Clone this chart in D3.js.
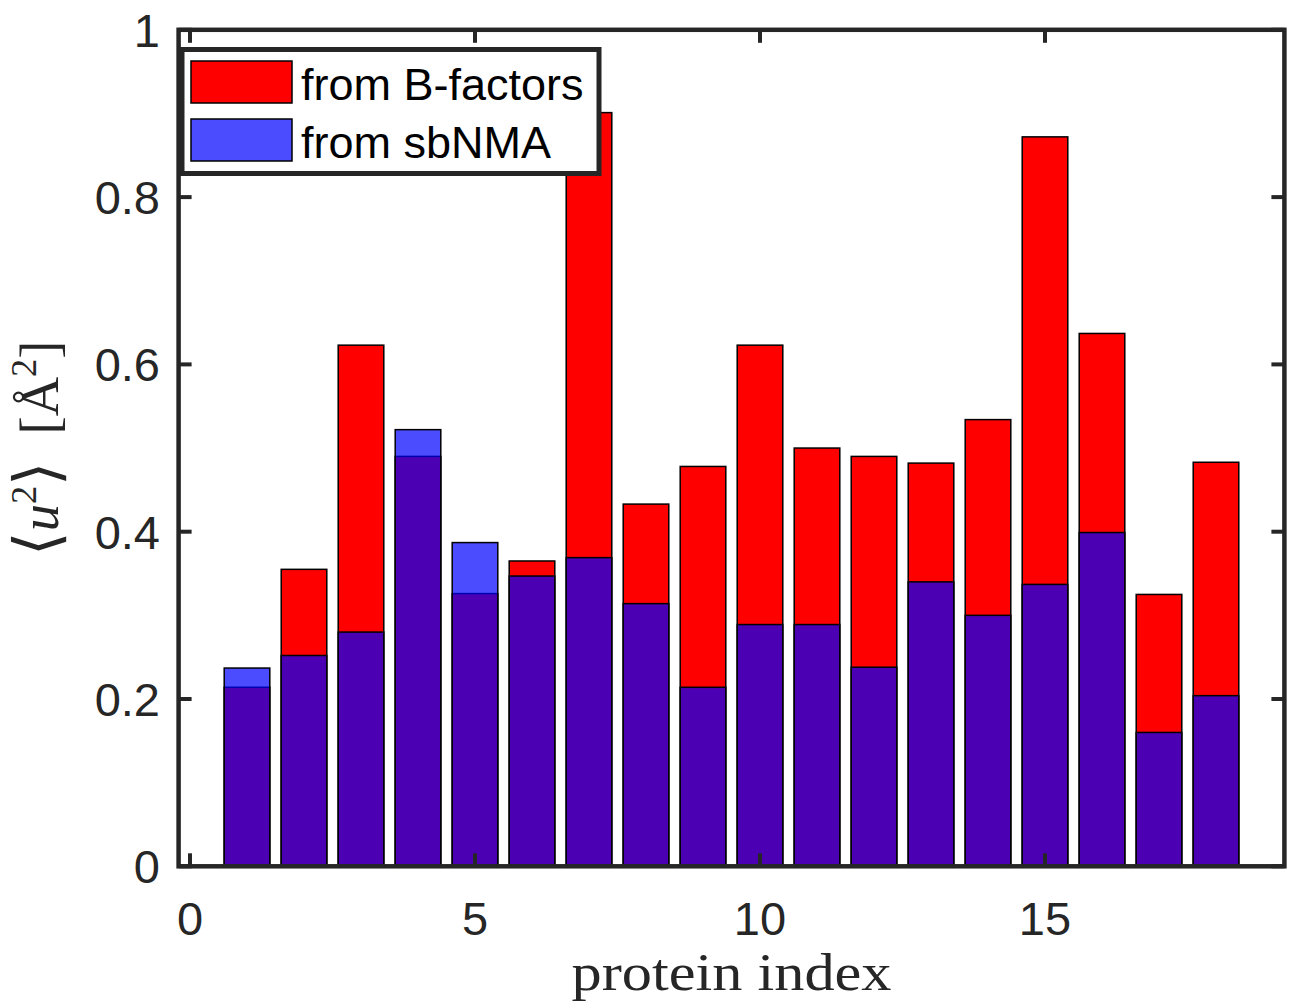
<!DOCTYPE html>
<html>
<head>
<meta charset="utf-8">
<script src="https://cdn.jsdelivr.net/npm/d3@7"></script>
<style>
  html, body { margin: 0; padding: 0; background: #fff; }
  svg { display: block; }
</style>
</head>
<body>
<div id="chart"></div>
<script>
// data
const proteinIndex = [1, 2, 3, 4, 5, 6, 7, 8, 9, 10, 11, 12, 13, 14, 15, 16, 17, 18];
const fromBFactors = [0.214, 0.355, 0.623, 0.490, 0.326, 0.365, 0.901, 0.433, 0.478, 0.623, 0.500, 0.490, 0.482, 0.534, 0.872, 0.637, 0.325, 0.483];
const fromSbNMA = [0.237, 0.252, 0.280, 0.522, 0.387, 0.347, 0.369, 0.314, 0.214, 0.289, 0.289, 0.238, 0.340, 0.300, 0.337, 0.399, 0.160, 0.204];
const xTicks = [0, 5, 10, 15];
const yTicks = [0, 0.2, 0.4, 0.6, 0.8, 1];
const legendLabels = ['from B-factors', 'from sbNMA'];

// layout
const width = 1291, height = 1006;
const plot = {l: 178.6, r: 1284.4, t: 29.8, b: 866.3};
const axisColor = '#262626';
const barWidth = 0.8;

const svg = d3.select('#chart').append('svg')
    .attr('width', width)
    .attr('height', height);

// scales
const x = d3.scaleLinear().domain([-0.2, 19.2]).range([plot.l, plot.r]);
const y = d3.scaleLinear().domain([0, 1]).range([plot.b, plot.t]);
const bw = x(barWidth) - x(0);

// bars: red first, translucent blue on top
const series = [
    {vals: fromBFactors, fill: '#ff0000', opacity: 1},
    {vals: fromSbNMA, fill: '#0000ff', opacity: 0.7}
];
series.forEach((s, k) => {
    svg.append('g').classed('bars-' + k, true)
        .selectAll('rect')
        .data(proteinIndex.map((p, i) => ({p, v: s.vals[i]})))
        .join('rect')
        .attr('x', d => x(d.p) - bw / 2)
        .attr('y', d => y(d.v))
        .attr('width', bw)
        .attr('height', d => y(0) - y(d.v))
        .attr('fill', s.fill)
        .attr('fill-opacity', s.opacity)
        .attr('stroke', '#000')
        .attr('stroke-width', 1.5);
});

// axes box with inward ticks
const tickLen = 13;
const axes = svg.append('g').classed('axes', true);
axes.append('rect')
    .attr('x', plot.l).attr('y', plot.t)
    .attr('width', plot.r - plot.l).attr('height', plot.b - plot.t)
    .attr('fill', 'none')
    .attr('stroke', axisColor)
    .attr('stroke-width', 4.5);

xTicks.forEach(t => {
    [[plot.b, plot.b - tickLen], [plot.t, plot.t + tickLen]].forEach(([a, b]) => {
        axes.append('line')
            .attr('x1', x(t)).attr('x2', x(t)).attr('y1', a).attr('y2', b)
            .attr('stroke', axisColor).attr('stroke-width', 4);
    });
});
yTicks.forEach(t => {
    [[plot.l, plot.l + tickLen], [plot.r, plot.r - tickLen]].forEach(([a, b]) => {
        axes.append('line')
            .attr('x1', a).attr('x2', b).attr('y1', y(t)).attr('y2', y(t))
            .attr('stroke', axisColor).attr('stroke-width', 4);
    });
});

// tick labels
const tickFont = '"Liberation Sans", Arial, sans-serif';
axes.selectAll('.xlab')
    .data(xTicks)
    .join('text')
    .classed('xlab', true)
    .attr('x', d => x(d))
    .attr('y', 935)
    .attr('text-anchor', 'middle')
    .style('font-family', tickFont)
    .style('font-size', '47px')
    .style('fill', axisColor)
    .text(d => d);

axes.selectAll('.ylab')
    .data(yTicks)
    .join('text')
    .classed('ylab', true)
    .attr('x', 160)
    .attr('y', d => y(d) + 17)
    .attr('text-anchor', 'end')
    .style('font-family', tickFont)
    .style('font-size', '47px')
    .style('fill', axisColor)
    .text(d => d);

// axis titles
const serif = '"Liberation Serif", "Times New Roman", serif';
svg.append('text')
    .attr('x', (plot.l + plot.r) / 2)
    .attr('y', 990)
    .attr('text-anchor', 'middle')
    .attr('textLength', 320)
    .attr('lengthAdjust', 'spacingAndGlyphs')
    .style('font-family', serif)
    .style('font-size', '52px')
    .style('fill', axisColor)
    .text('protein index');

const yTitle = svg.append('text')
    .attr('transform', `translate(58,${(plot.t + plot.b) / 2}) rotate(-90)`)
    .attr('text-anchor', 'middle')
    .attr('textLength', 215)
    .attr('lengthAdjust', 'spacingAndGlyphs')
    .style('font-family', serif)
    .style('font-size', '54px')
    .style('fill', axisColor);
yTitle.append('tspan').style('font-size', '62px').text('\u27E8');
yTitle.append('tspan').style('font-style', 'italic').text('u');
yTitle.append('tspan').attr('dy', -22).style('font-size', '36px').text('2');
yTitle.append('tspan').attr('dy', 22).style('font-size', '62px').text('\u27E9');
yTitle.append('tspan').text('\u2002[');
yTitle.append('tspan').text('\u00C5');
yTitle.append('tspan').attr('dy', -22).style('font-size', '36px').text('2');
yTitle.append('tspan').attr('dy', 22).text(']');

// legend
const legend = svg.append('g').classed('legend', true);
legend.append('rect')
    .attr('x', 182).attr('y', 49.5)
    .attr('width', 417).attr('height', 124)
    .attr('fill', '#fff')
    .attr('stroke', axisColor)
    .attr('stroke-width', 5);
const legendItems = legend.selectAll('.item')
    .data(legendLabels.map((l, i) => ({l, s: series[i]})))
    .join('g')
    .classed('item', true)
    .attr('transform', (d, i) => `translate(0,${i * 58})`);
legendItems.append('rect')
    .attr('x', 191).attr('y', 61)
    .attr('width', 101).attr('height', 42)
    .attr('fill', d => d.s.fill)
    .attr('fill-opacity', d => d.s.opacity)
    .attr('stroke', '#000')
    .attr('stroke-width', 1.5);
legendItems.append('text')
    .attr('x', 301).attr('y', 100)
    .style('font-family', tickFont)
    .style('font-size', '45px')
    .style('fill', '#000')
    .text(d => d.l);
</script>
</body>
</html>
